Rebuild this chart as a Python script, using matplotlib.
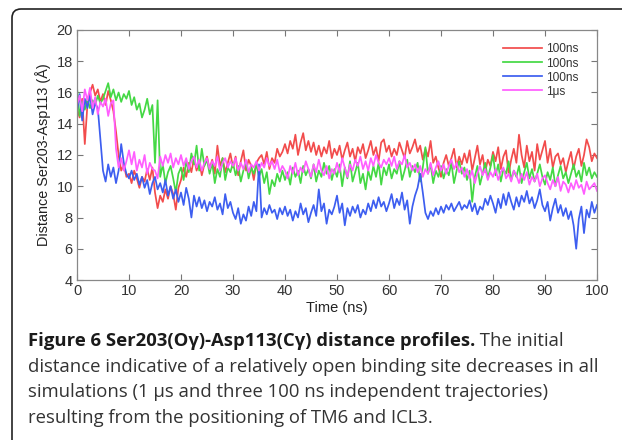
"""Ser203-Asp113 distance profiles (Figure 6 recreation)

Output: out.png
"""
import numpy as np
import matplotlib.pyplot as plt
from matplotlib.patches import FancyBboxPatch

TIME_STEP = 0.5  # ns between samples
LABELS = ["100ns", "100ns", "100ns", "1\u03bcs"]
COLORS = ["#f24c4c", "#44d844", "#3d5ef0", "#ff5eff"]

red_100ns = [
    15.0, 14.4, 15.6, 12.7, 15.2, 16.0, 16.5, 15.8, 16.2, 15.4,
    15.9, 15.2, 16.1, 15.5, 14.8, 13.5, 12.0, 11.0, 11.4, 10.6,
    10.8, 10.2, 11.0, 10.5, 9.9, 10.6, 10.3, 11.1, 10.4, 11.2,
    9.6, 8.6, 9.4, 9.0, 9.8, 9.2, 10.0, 9.5, 8.5, 9.9,
    10.4, 11.2, 10.6, 11.5, 10.9, 11.8, 11.0, 11.6, 10.7, 11.4,
    11.9, 11.1, 11.7, 10.8, 12.6, 11.3, 11.8, 10.9, 11.5, 12.1,
    11.2, 11.9, 10.7, 11.6, 12.3, 11.0, 11.7, 11.3, 10.4, 11.5,
    11.8, 12.0, 11.4, 12.2, 11.1, 11.8, 11.5, 12.4, 11.9, 12.2,
    12.7, 12.1, 12.9, 12.4, 13.3, 12.0, 12.8, 13.4, 12.3, 12.9,
    12.2, 12.8, 12.0, 12.6, 11.9, 12.5, 12.1, 12.9, 11.8, 12.4,
    12.0, 12.6, 11.7, 12.3, 12.8, 11.9, 12.4, 11.6, 12.5, 12.1,
    12.7, 11.8, 12.3, 12.9, 12.0, 12.5, 11.6, 12.8, 13.0, 12.2,
    12.6, 11.9, 12.4, 12.0, 12.8, 12.3, 11.8, 12.9, 12.1, 12.5,
    13.0, 12.2, 12.6, 11.7, 12.4, 11.9, 12.9, 11.5, 11.9, 11.2,
    10.6, 11.5, 12.0, 11.3, 11.8, 12.4, 11.2, 11.9, 11.4, 12.1,
    11.5, 12.3, 11.0, 11.8, 12.6, 11.4, 12.0, 10.9, 11.7, 11.3,
    12.2, 11.6, 12.5, 11.1, 11.9, 12.3, 10.8, 11.7, 12.4, 11.5,
    13.3, 12.0, 11.2, 12.6, 11.6, 12.2, 11.0, 12.7, 11.7, 12.3,
    12.9, 11.5, 12.4, 11.2, 11.9, 12.1, 11.4, 11.8, 10.9, 11.6,
    12.2, 11.1, 11.9, 12.4, 11.3, 12.0, 13.0, 12.5, 11.6, 12.1,
    11.8,
]

green_100ns = [
    16.3, 14.5, 15.4, 14.9, 15.6, 15.0, 15.5, 15.2, 15.8, 15.3,
    15.6, 16.1, 16.6, 15.7, 16.2, 15.5, 16.0, 15.4, 15.9, 15.6,
    16.1, 15.2, 15.7, 14.9, 15.3, 14.4, 14.9, 15.6, 14.6, 15.2,
    11.5, 15.5, 10.6, 11.4, 10.2, 10.9, 11.3, 10.5, 9.6, 10.8,
    11.2, 10.4, 11.6, 10.9, 12.1, 11.4, 12.6, 11.0, 12.4, 11.3,
    11.7, 10.8, 11.5, 10.2, 11.1, 10.6, 11.8, 10.4, 11.2, 10.9,
    11.5, 10.7, 11.3, 10.3, 11.0, 11.6, 10.5, 11.2, 10.8, 11.4,
    10.6, 11.1, 10.2, 10.9, 9.5, 10.4, 10.0, 10.8, 10.3, 11.0,
    10.4, 10.9, 10.1, 11.2, 10.6, 11.0, 10.2, 11.3, 10.7, 11.1,
    10.5, 11.4, 10.3, 11.0, 10.6, 11.5, 10.8, 11.3, 10.4, 11.1,
    10.6, 11.4, 10.0, 11.2, 10.5, 11.6, 10.3, 10.9, 11.5, 10.2,
    10.8, 9.8, 11.0, 10.4, 11.3, 10.6, 11.5, 10.1, 11.2, 10.7,
    11.4, 10.5, 11.1, 10.8, 11.6, 10.4, 11.0, 11.7, 10.6, 11.3,
    10.9, 11.5, 10.3, 11.2, 12.5, 10.8, 11.4, 10.2, 11.0, 10.6,
    11.3, 10.5, 11.1, 10.7, 11.5, 10.2, 11.0, 11.6, 10.8, 11.2,
    10.4, 11.0, 9.0, 10.6, 11.3, 10.1, 10.8, 11.5, 10.5, 11.2,
    12.0, 10.7, 11.4, 10.3, 11.1, 10.8, 11.6, 10.4, 11.0, 10.6,
    11.3, 10.2, 10.9, 11.5, 10.5, 11.1, 10.3, 10.8, 11.4, 10.6,
    10.1, 10.9, 10.4, 11.2, 10.0, 10.7, 11.3, 10.5, 10.9, 10.2,
    10.8, 11.4, 10.6, 11.0, 10.3, 11.5, 10.7, 11.2, 10.5, 10.9,
    10.6,
]

blue_100ns = [
    14.8, 15.9, 14.2, 15.6, 15.0, 15.8, 14.6, 15.3, 15.0, 13.0,
    11.0, 10.3, 11.4, 10.6, 11.2, 10.2, 11.0, 12.7, 11.5, 10.8,
    10.5, 11.0, 10.4, 10.8, 10.1, 10.6, 9.9, 10.4, 9.5, 10.2,
    10.6, 9.8, 10.2, 9.6, 10.4, 9.4, 10.0, 9.2, 9.8, 9.0,
    9.6, 8.8, 9.9, 9.2, 8.0, 9.4, 8.7, 9.3, 8.6, 9.1,
    8.4, 9.0, 8.7, 9.3, 8.5, 8.9, 8.2, 9.5, 8.6, 9.0,
    8.3, 7.9, 8.6, 7.6, 8.2, 7.8, 8.7, 8.1, 9.0, 8.4,
    11.4, 8.0, 8.6, 8.2, 8.8, 8.3, 8.5, 7.9, 8.6, 8.2,
    8.7, 8.1, 8.5, 7.8, 8.4, 8.0, 8.9, 8.2, 8.6, 7.7,
    8.3, 8.8, 8.1, 9.8, 8.4, 8.9, 7.6, 8.5, 8.2, 8.7,
    9.4, 8.3, 8.9, 7.5, 8.6, 8.1, 8.7, 8.3, 8.8, 8.0,
    8.5, 8.2, 8.9, 8.4, 9.1, 8.6, 9.3, 8.7, 9.0, 8.4,
    8.9, 9.5, 8.6, 9.2, 8.8, 9.6, 8.5, 9.1, 7.6, 8.7,
    9.4, 9.9, 10.8, 9.6, 8.3, 7.9, 8.4, 8.1, 8.6, 8.2,
    8.7, 8.3, 8.8, 8.5, 8.9, 8.4, 8.7, 9.0, 8.5, 8.8,
    8.6, 9.1, 8.4, 8.9, 8.2, 8.7, 8.5, 9.2, 8.8, 9.4,
    8.9, 8.3, 9.2, 8.6, 9.5, 8.8, 9.6, 9.0, 8.5, 9.3,
    8.7, 9.4, 9.0, 9.7, 8.9, 9.3, 8.6, 9.1, 9.8, 8.8,
    8.4, 9.0, 7.8, 8.6, 9.2, 8.3, 8.8, 8.1, 8.6, 7.9,
    8.4, 7.5, 6.0, 7.9, 8.7, 7.0, 8.5, 8.0, 9.0, 8.3,
    8.8,
]

magenta_1us = [
    15.2, 15.8, 14.8, 16.2, 15.5, 16.3, 15.0, 15.7, 14.6, 15.4,
    15.1, 15.6, 14.5, 15.3, 15.5, 12.4, 11.2, 11.8, 11.0, 11.6,
    12.3, 11.4, 12.2, 11.0, 11.7, 11.2, 12.0, 10.8, 11.5, 11.1,
    11.0, 10.5, 11.9, 11.3, 12.0, 11.5, 12.1, 11.2, 11.8, 11.4,
    12.0, 11.3, 11.8, 11.1, 11.6, 11.9, 11.2, 11.7, 11.0, 11.5,
    11.8, 11.1, 11.6, 11.3, 11.9, 11.0, 11.5, 11.8, 11.2, 11.6,
    11.3, 11.8, 11.0, 11.5, 11.1, 11.7, 10.9, 11.4, 11.2, 11.6,
    11.0, 11.5, 11.2, 11.8, 11.3, 11.6, 11.1, 11.7, 10.9, 11.3,
    11.0, 10.5, 11.3, 10.8, 11.5, 10.7, 11.2, 10.9, 11.6, 11.1,
    10.6, 11.4, 10.9, 11.7, 11.0, 10.7, 11.3, 10.5, 11.1, 10.8,
    11.5, 10.9, 11.8, 11.2, 10.6, 11.4, 11.0, 11.7, 11.3, 11.9,
    11.1, 11.6, 11.0, 11.8, 11.3, 12.0, 11.5, 11.2, 11.7, 11.4,
    11.8, 11.3, 11.9, 11.1, 11.6, 11.4, 12.0, 11.2, 11.5, 11.0,
    11.4, 10.9, 11.3, 10.6, 11.1, 10.8, 11.5, 10.7, 11.2, 11.6,
    11.0, 11.4, 10.8, 11.3, 11.7, 11.1, 11.5, 10.9, 11.2, 10.6,
    11.1, 10.5, 11.0, 10.2, 10.8, 11.3, 10.7, 11.1, 10.4, 10.9,
    10.6, 11.1, 10.4, 10.9, 11.2, 10.5, 10.8, 10.3, 11.0, 10.7,
    10.2, 10.8, 10.4, 10.9, 10.1, 10.6, 10.3, 10.8, 10.0, 10.5,
    10.7, 10.2, 9.8, 10.4, 10.0, 10.6, 9.7, 10.3, 10.1, 9.6,
    10.2, 9.8, 10.4, 9.9, 10.1, 9.5, 10.3, 9.8, 10.0, 10.2,
    9.7,
]

SERIES = [red_100ns, green_100ns, blue_100ns, magenta_1us]

CAPTION_BOLD = "Figure 6 Ser203(O\u03b3)-Asp113(C\u03b3) distance profiles."
CAPTION_LINES = [
    " The initial",
    "distance indicative of a relatively open binding site decreases in all",
    "simulations (1 \u03bcs and three 100 ns independent trajectories)",
    "resulting from the positioning of TM6 and ICL3.",
]

W, H = 622, 440
fig = plt.figure(figsize=(W / 100, H / 100), dpi=100)

# open frame round the figure (only top-left corner visible)
frame = FancyBboxPatch((0.12, -0.5), 7.0, 4.31 + 0.5,
                       boxstyle="round,pad=0,rounding_size=0.09",
                       transform=fig.dpi_scale_trans, facecolor="none",
                       edgecolor="#222222", linewidth=1.2)
fig.patches.append(frame)

ax = fig.add_axes([77 / W, 1 - 280 / H, (597 - 77) / W, (280 - 30) / H])
sans = ["Liberation Sans", "DejaVu Sans"]

for vals, lab, col in zip(SERIES, LABELS, COLORS):
    t = np.arange(len(vals)) * TIME_STEP
    ax.plot(t, vals, color=col, lw=1.25, label=lab)

ax.set_xlim(0, 100)
ax.set_ylim(4, 20)
ax.set_xticks(range(0, 101, 10))
ax.set_yticks(range(4, 21, 2))
ax.tick_params(direction="in", top=True, right=True, length=4,
               width=0.8, color="#777777", labelsize=10.5,
               labelcolor="#333333", pad=3)
for lbl in ax.get_xticklabels() + ax.get_yticklabels():
    lbl.set_family(sans)
for sp in ax.spines.values():
    sp.set_color("#888888")
    sp.set_linewidth(0.9)

ax.set_xlabel("Time (ns)", fontsize=10.5, color="#222222", labelpad=2,
              family=sans)
ax.set_ylabel("Distance Ser203-Asp113 (\u00c5)", fontsize=10.4,
              color="#222222", labelpad=4, family=sans)

leg = ax.legend(loc="upper right", bbox_to_anchor=(0.9765, 0.97),
                frameon=False, handlelength=3.2, handletextpad=0.4,
                labelspacing=0.17, borderpad=0,
                prop=dict(family=sans, size=8.6))
for txt in leg.get_texts():
    txt.set_color("#333333")

# caption: bold lead-in followed by regular text on the same line
cap_font = ["Open Sans", "DejaVu Sans"]
cap_size = 13.3
x0 = 28 / W
line_y = [341, 367, 392, 418]
bold = fig.text(x0, 1 - line_y[0] / H, CAPTION_BOLD, fontsize=cap_size,
                fontweight="bold", family=cap_font, color="#1a1a1a",
                va="center", ha="left")
fig.canvas.draw()
bb = bold.get_window_extent()
fig.text(bb.x1 / W, 1 - line_y[0] / H, CAPTION_LINES[0], fontsize=cap_size,
         family=cap_font, color="#333333", va="center", ha="left")
for y, line in zip(line_y[1:], CAPTION_LINES[1:]):
    fig.text(x0, 1 - y / H, line, fontsize=cap_size, family=cap_font,
             color="#333333", va="center", ha="left")

fig.savefig("out.png", dpi=100, facecolor="white")
